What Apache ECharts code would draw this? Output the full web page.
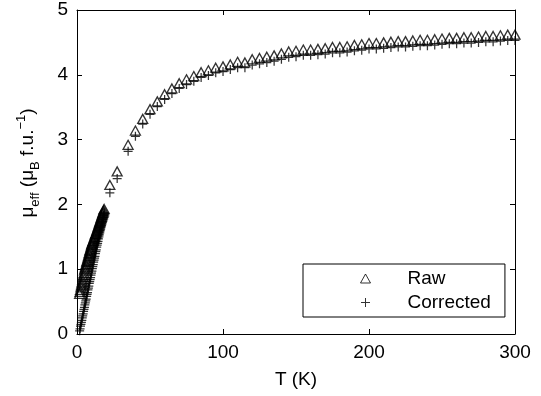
<!DOCTYPE html>
<html>
<head>
<meta charset="utf-8">
<script src="https://cdn.jsdelivr.net/npm/echarts@6/dist/echarts.min.js"></script>
<style>
html,body{margin:0;padding:0;background:#fff;}
#chart{width:541px;height:396px;}
</style>
</head>
<body>
<div id="chart"></div>
<script>
// Temperatures (K)
const tempLow = [1.8,2.1,2.4,2.7,3.0,3.3,3.6,3.9,4.2,4.5,4.8,5.1,5.4,5.7,6.0,6.3,6.6,6.9,7.2,7.5,7.8,8.1,8.4,8.7,9.0,9.3,9.6,9.9,10.2,10.5,10.8,11.1,11.4,11.7,12.0,12.3,12.6,12.9,13.2,13.5,13.8,14.1,14.4,14.7,15.0,15.3,15.6,15.9,16.2,16.5,16.8,17.1,17.4,17.7,18.0,18.3,18.6];
const tempMid = [22.5,27.5];
const tempHigh = [35,40,45,50,55,60,65,70,75,80,85,90,95,100,105,110,115,120,125,130,135,140,145,150,155,160,165,170,175,180,185,190,195,200,205,210,215,220,225,230,235,240,245,250,255,260,265,270,275,280,285,290,295,300];

// Raw mu_eff
const rawLow = [0.62,0.65,0.68,0.72,0.75,0.78,0.81,0.84,0.88,0.91,0.94,0.98,1.01,1.03,1.06,1.08,1.11,1.13,1.15,1.18,1.20,1.23,1.25,1.28,1.30,1.32,1.35,1.37,1.39,1.41,1.43,1.44,1.46,1.48,1.50,1.52,1.54,1.55,1.57,1.59,1.61,1.63,1.65,1.67,1.69,1.71,1.73,1.75,1.77,1.79,1.81,1.83,1.85,1.87,1.89,1.91,1.93];
const rawMid = [2.30,2.51];
const rawHigh = [2.92,3.14,3.32,3.47,3.59,3.70,3.79,3.87,3.93,3.98,4.04,4.07,4.11,4.13,4.16,4.20,4.19,4.24,4.26,4.28,4.30,4.33,4.36,4.37,4.39,4.39,4.40,4.41,4.43,4.43,4.44,4.46,4.47,4.49,4.49,4.50,4.51,4.52,4.52,4.53,4.54,4.54,4.55,4.56,4.57,4.57,4.58,4.58,4.59,4.60,4.60,4.61,4.62,4.62];

// Corrected mu_eff
const corrLow = [0.05,0.08,0.12,0.15,0.18,0.21,0.25,0.28,0.31,0.35,0.38,0.41,0.45,0.48,0.51,0.54,0.58,0.61,0.64,0.68,0.71,0.74,0.78,0.81,0.84,0.87,0.91,0.94,0.97,1.01,1.04,1.07,1.11,1.14,1.17,1.20,1.24,1.27,1.30,1.34,1.37,1.40,1.43,1.47,1.50,1.53,1.56,1.59,1.62,1.65,1.68,1.71,1.74,1.77,1.80,1.83,1.87];
const corrMid = [2.18,2.40];
const corrHigh = [2.82,3.05,3.24,3.39,3.51,3.62,3.71,3.79,3.85,3.90,3.96,3.99,4.03,4.05,4.08,4.11,4.11,4.15,4.17,4.19,4.21,4.24,4.27,4.28,4.30,4.30,4.31,4.32,4.34,4.34,4.35,4.37,4.38,4.40,4.40,4.41,4.42,4.43,4.43,4.44,4.45,4.45,4.46,4.47,4.48,4.48,4.49,4.49,4.50,4.51,4.51,4.52,4.53,4.53];

const xTicks = [0,100,200,300];
const yTicks = [0,1,2,3,4,5];
const seriesNames = ['Raw','Corrected'];

const temps = tempLow.concat(tempMid, tempHigh);
const raw = rawLow.concat(rawMid, rawHigh);
const corr = corrLow.concat(corrMid, corrHigh);
const rawPts = temps.map((t,i)=>[t, raw[i]]);
const corrPts = temps.map((t,i)=>[t, corr[i]]);

const FONT = 'Liberation Sans, Arial, Helvetica, sans-serif';
const plusPath = 'path://M3.9,0h1.25v9h-1.25z M0,3.9h9v1.25h-9z';
const plusLegend = 'path://M4,0h1v9h-1z M0,4h9v1h-9z';

const chart = echarts.init(document.getElementById('chart'), null, {renderer:'canvas'});
function axisCommon(){
  return {
    axisLine:{show:true, onZero:false, lineStyle:{color:'#000', width:1}},
    axisTick:{show:true, inside:true, length:5, lineStyle:{color:'#000', width:1}},
    splitLine:{show:false}
  };
}
chart.setOption({
  animation:false,
  backgroundColor:'#fff',
  grid:{left:77, right:26, top:10, bottom:62, containLabel:false},
  xAxis:[
    Object.assign({type:'value', min:xTicks[0], max:xTicks[xTicks.length-1], interval:100, position:'bottom',
      name:'T (K)', nameLocation:'middle', nameGap:36,
      nameTextStyle:{fontSize:19, fontFamily:FONT, color:'#000'},
      axisLabel:{fontSize:19, fontFamily:FONT, color:'#000', margin:9}}, axisCommon()),
    Object.assign({type:'value', min:xTicks[0], max:xTicks[xTicks.length-1], interval:100, position:'top',
      axisLabel:{show:false}}, axisCommon())
  ],
  yAxis:[
    Object.assign({type:'value', min:yTicks[0], max:yTicks[yTicks.length-1], interval:1, position:'left',
      name:'{m|μ}{s|eff}{m| (μ}{s|B}{m| f.u.}{p|−1}{m|)}', nameLocation:'middle', nameGap:34, nameRotate:90,
      nameTextStyle:{fontSize:19, fontFamily:FONT, color:'#000', padding:[0,0,0,18],
        rich:{
          m:{fontSize:19, fontFamily:FONT, color:'#000', lineHeight:30, verticalAlign:'middle'},
          s:{fontSize:13, fontFamily:FONT, color:'#000', lineHeight:30, verticalAlign:'bottom', padding:[0,0,1,0]},
          p:{fontSize:13, fontFamily:FONT, color:'#000', lineHeight:30, verticalAlign:'top', padding:[2,0,0,0]}
        }},
      axisLabel:{fontSize:19, fontFamily:FONT, color:'#000', margin:9}}, axisCommon()),
    Object.assign({type:'value', min:yTicks[0], max:yTicks[yTicks.length-1], interval:1, position:'right',
      axisLabel:{show:false}}, axisCommon())
  ],
  legend:{
    orient:'vertical', left:303, top:264,
    padding:[5,14,5,57], itemGap:5, itemWidth:10, itemHeight:9,
    borderColor:'#000', borderWidth:1, backgroundColor:'#fff',
    textStyle:{fontSize:19, fontFamily:FONT, color:'#000', padding:[0,0,0,32]},
    data:[
      {name:seriesNames[0], icon:'triangle', itemStyle:{color:'rgba(0,0,0,0)', borderColor:'#000', borderWidth:1}},
      {name:seriesNames[1], icon:plusLegend, itemStyle:{color:'#000', borderWidth:0}}
    ]
  },
  series:[
    {name:seriesNames[0], type:'scatter', data:rawPts, symbol:'triangle', symbolSize:[10,9], clip:false,
      itemStyle:{color:'rgba(0,0,0,0)', borderColor:'#000', borderWidth:1.3}, emphasis:{disabled:true}},
    {name:seriesNames[1], type:'scatter', data:corrPts, symbol:plusPath, symbolSize:[9,9], clip:false,
      itemStyle:{color:'#000'}, emphasis:{disabled:true}}
  ]
});
</script>
</body>
</html>
